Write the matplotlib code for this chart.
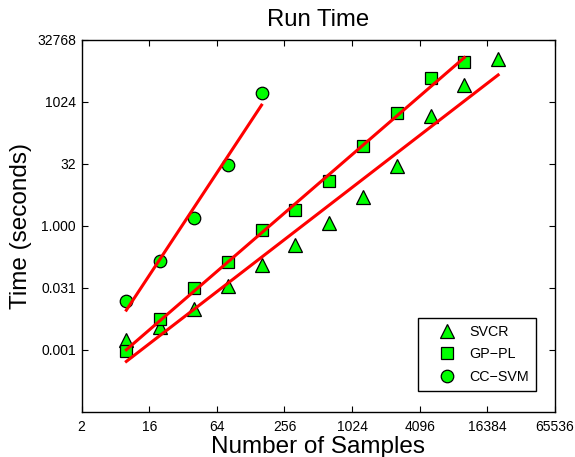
import numpy as np
import matplotlib
matplotlib.use('Agg')
import matplotlib.pyplot as plt

plt.rcParams['font.family'] = ['Liberation Sans', 'DejaVu Sans']

# number of samples (doubling from 10)
n_svcr = [10, 20, 40, 80, 160, 320, 640, 1280, 2560, 5120, 10240, 20480]
n_gppl = [10, 20, 40, 80, 160, 320, 640, 1280, 2560, 5120, 10240]
n_ccsvm = [10, 20, 40, 80, 160]

# run time in seconds
t_svcr = [2**-9.22, 2**-8.14, 2**-6.66, 2**-4.85, 2**-3.16, 2**-1.56,
          2**0.27, 2**2.3, 2**4.85, 2**8.9, 2**11.33, 2**13.49]
t_gppl = [2**-10.06, 2**-7.5, 2**-5.04, 2**-2.91, 2**-0.29, 2**1.29,
          2**3.64, 2**6.42, 2**9.09, 2**11.93, 2**13.24]
t_ccsvm = [2**-6.07, 2**-2.8, 2**0.62, 2**4.91, 2**10.74]

xtick_vals = [4, 16, 64, 256, 1024, 4096, 16384, 65536]
xtick_labels = ['2', '16', '64', '256', '1024', '4096', '16384', '65536']
ytick_vals = [2**-10, 2**-5, 1, 32, 1024, 32768]
ytick_labels = ['0.001', '0.031', '1.000', '32', '1024', '32768']

fig = plt.figure(figsize=(5.75, 4.57), dpi=100)
ax = fig.add_axes([0.142, 0.0985, 0.823, 0.814])


def fit_line(xs, ys):
    lx = np.log2(xs)
    ly = np.log2(ys)
    k, b = np.polyfit(lx, ly, 1)
    return np.array(xs), 2 ** (k * lx + b)


green = '#00ff00'
series = [
    (n_svcr, t_svcr, '^', 10, 'SVCR'),
    (n_gppl, t_gppl, 's', 8, 'GP\u2212PL'),
    (n_ccsvm, t_ccsvm, 'o', 9, 'CC\u2212SVM'),
]
for xs, ys, mk, ms, name in series:
    ax.plot(xs, ys, linestyle='none', marker=mk, markersize=ms,
            markerfacecolor=green, markeredgecolor='black',
            markeredgewidth=0.9, label=name, zorder=2)
    fx, fy = fit_line(xs, ys)
    ax.plot(fx, fy, color='red', linewidth=2.2, zorder=3)

ax.set_xscale('log', base=2)
ax.set_yscale('log', base=2)
ax.set_xlim(4, 65536)
ax.set_ylim(2**-15, 2**15)
ax.set_xticks(xtick_vals)
ax.set_xticklabels(xtick_labels)
ax.set_yticks(ytick_vals)
ax.set_yticklabels(ytick_labels)
ax.minorticks_off()
ax.tick_params(direction='in', top=True, right=True, length=4, width=0.8,
               labelsize=10)
ax.tick_params(axis='x', pad=6)
ax.tick_params(axis='y', pad=4)
for s in ax.spines.values():
    s.set_linewidth(1.0)

ax.set_title('Run Time', fontsize=17.2, pad=10)
ax.set_xlabel('Number of Samples', fontsize=17.5, labelpad=1)
ax.set_ylabel('Time (seconds)', fontsize=17.5, labelpad=4)

leg = ax.legend(loc='lower right', bbox_to_anchor=(0.961, 0.056),
                fontsize=10.3, fancybox=False, framealpha=1,
                edgecolor='black', borderaxespad=0, labelspacing=0.6,
                handletextpad=0.1, borderpad=0.5, handlelength=3.0)
leg.get_frame().set_linewidth(1.0)

fig.savefig('out.png', dpi=100)
